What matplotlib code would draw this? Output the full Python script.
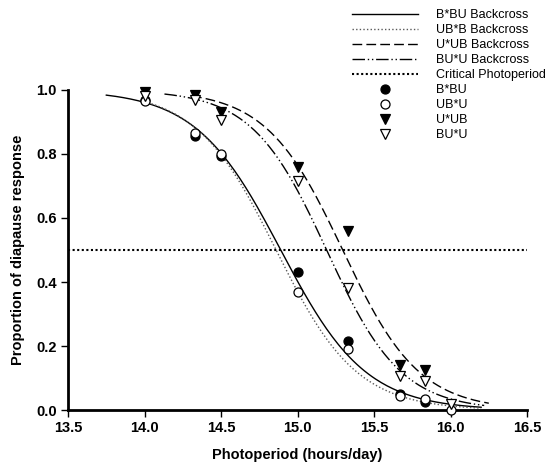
import numpy as np
import matplotlib
matplotlib.use("Agg")
import matplotlib.pyplot as plt
from matplotlib.lines import Line2D

plt.rcParams['font.family'] = ['Liberation Sans', 'DejaVu Sans']

photo = [14.0, 14.33, 14.5, 15.0, 15.33, 15.67, 15.83, 16.0]
b_bu = [0.97, 0.855, 0.795, 0.43, 0.215, 0.05, 0.025, None]
ub_u = [0.965, 0.865, 0.80, 0.37, 0.19, 0.045, 0.035, 0.0]
u_ub = [0.995, 0.985, 0.93, 0.76, 0.56, 0.14, 0.125, None]
bu_u = [0.98, 0.97, 0.905, 0.715, 0.38, 0.105, 0.09, 0.02]

# fitted logistic curves: x50, slope, x start, x end
curve_names = ["B*BU Backcross", "UB*B Backcross", "U*UB Backcross", "BU*U Backcross"]
curve_x50 = [14.89, 14.86, 15.295, 15.19]
curve_slope = [3.6, 3.8, 4.0, 4.1]
curve_start = [13.75, 14.0, 14.31, 14.13]
curve_end = [16.2, 16.2, 16.25, 16.22]
curve_styles = ['-', (0, (1, 1.6)), (0, (7, 3)), (0, (9, 2, 1, 2, 1, 2))]
curve_colors = ['black', '0.35', 'black', 'black']

critical = 0.5


def logistic(x, x50, k):
    return 1.0 / (1.0 + np.exp(k * (x - x50)))


fig = plt.figure(figsize=(5.49, 4.66), dpi=100)
ax = fig.add_axes([0.124, 0.120, 0.836, 0.687])

handles = []
for name, x50, k, x0, x1, ls, c in zip(curve_names, curve_x50, curve_slope,
                                        curve_start, curve_end, curve_styles, curve_colors):
    xs = np.linspace(x0, x1, 200)
    ln, = ax.plot(xs, logistic(xs, x50, k), linestyle=ls, color=c, lw=1.0, label=name)
    handles.append(ln)

cp = ax.axhline(critical, xmin=0, xmax=1, color='black', lw=1.5,
                linestyle=(0, (1, 1.2)), label="Critical Photoperiod")
handles.append(cp)

marker_sets = [
    ("B*BU", b_bu, 'o', 'black'),
    ("UB*U", ub_u, 'o', 'white'),
    ("U*UB", u_ub, 'v', 'black'),
    ("BU*U", bu_u, 'v', 'white'),
]
for name, vals, m, fc in marker_sets:
    xs = [x for x, v in zip(photo, vals) if v is not None]
    ys = [v for v in vals if v is not None]
    ax.plot(xs, ys, linestyle='none', marker=m, ms=6.5, mfc=fc, mec='black',
            mew=0.9, clip_on=False, zorder=5)
    handles.append(Line2D([], [], linestyle='none', marker=m, ms=6.5, mfc=fc,
                          mec='black', mew=0.9, label=name))

ax.set_xlim(13.5, 16.5)
ax.set_ylim(0, 1.0)
ax.set_xticks([13.5, 14.0, 14.5, 15.0, 15.5, 16.0, 16.5])
ax.set_yticks([0.0, 0.2, 0.4, 0.6, 0.8, 1.0])
ax.xaxis.set_major_formatter(plt.FormatStrFormatter('%.1f'))
ax.yaxis.set_major_formatter(plt.FormatStrFormatter('%.1f'))
for s in ['top', 'right']:
    ax.spines[s].set_visible(False)
for s in ['left', 'bottom']:
    ax.spines[s].set_linewidth(2.0)
ax.tick_params(direction='out', length=5, width=1, labelsize=10.5, pad=3)
for lab in ax.get_xticklabels() + ax.get_yticklabels():
    lab.set_fontweight('bold')

ax.set_xlabel("Photoperiod (hours/day)", fontsize=10.5, fontweight='bold', labelpad=9)
ax.set_ylabel("Proportion of diapause response", fontsize=10.5, fontweight='bold', labelpad=8)

fig.legend(handles=handles, loc='upper left', bbox_to_anchor=(0.641, 0.98),
           frameon=False, fontsize=9, handlelength=5.3, handletextpad=1.45,
           labelspacing=0.24, borderaxespad=0, borderpad=0, numpoints=1)

fig.savefig("out.png", dpi=100)
